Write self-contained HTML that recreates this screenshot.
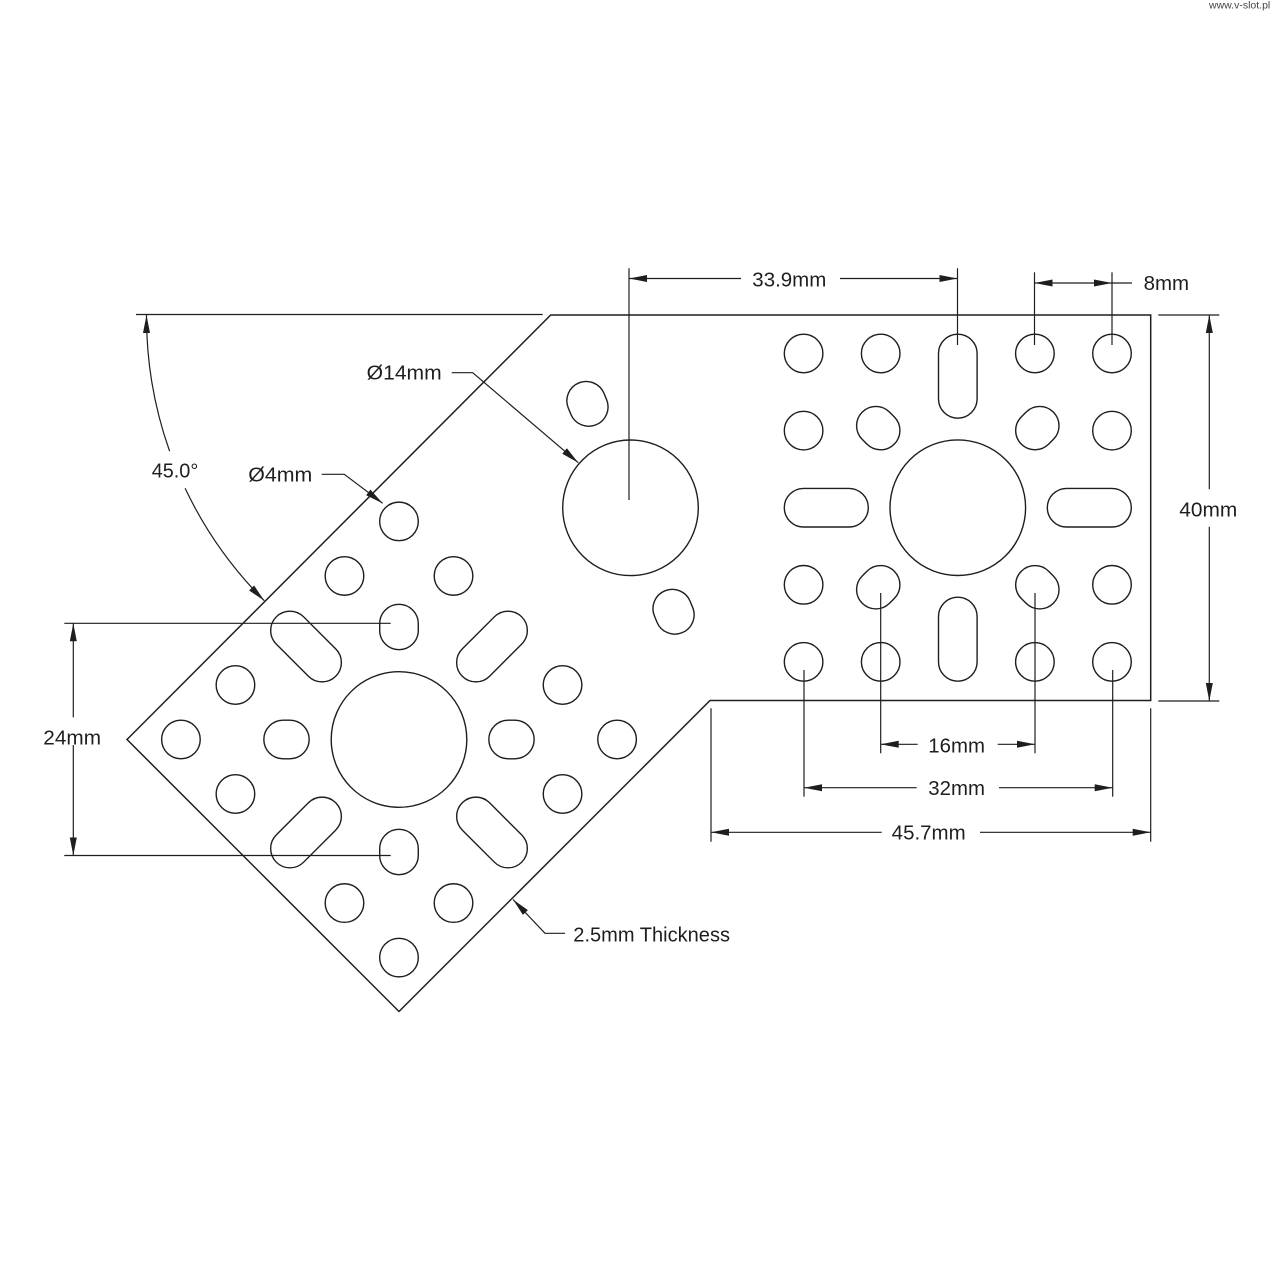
<!DOCTYPE html>
<html>
<head>
<meta charset="utf-8">
<style>
  html, body { margin: 0; padding: 0; background: #ffffff; }
  body { width: 1280px; height: 1280px; overflow: hidden; }
  svg { display: block; }
  text { font-family: "Liberation Sans", Arial, sans-serif; fill: #1e1e1e; }
</style>
</head>
<body>
<svg width="1280" height="1280" viewBox="0 0 1280 1280" xmlns="http://www.w3.org/2000/svg">
  <defs>
    <g id="pat" fill="none" stroke="#1e1e1e" stroke-width="1.4">
      <!-- 4mm circles -->
      <circle cx="-154.2" cy="-154.2" r="19.3"/>
      <circle cx="-77.1" cy="-154.2" r="19.3"/>
      <circle cx="77.1" cy="-154.2" r="19.3"/>
      <circle cx="154.2" cy="-154.2" r="19.3"/>
      <circle cx="-154.2" cy="-77.1" r="19.3"/>
      <circle cx="154.2" cy="-77.1" r="19.3"/>
      <circle cx="-154.2" cy="77.1" r="19.3"/>
      <circle cx="154.2" cy="77.1" r="19.3"/>
      <circle cx="-154.2" cy="154.2" r="19.3"/>
      <circle cx="-77.1" cy="154.2" r="19.3"/>
      <circle cx="77.1" cy="154.2" r="19.3"/>
      <circle cx="154.2" cy="154.2" r="19.3"/>
      <!-- center hole -->
      <circle cx="0" cy="0" r="67.8"/>
      <!-- long slots -->
      <rect x="-19.3" y="-173.5" width="38.6" height="84" rx="19.3" ry="19.3"/>
      <rect x="-19.3" y="89.5" width="38.6" height="84" rx="19.3" ry="19.3"/>
      <rect x="-173.5" y="-19.3" width="84" height="38.6" rx="19.3" ry="19.3"/>
      <rect x="89.5" y="-19.3" width="84" height="38.6" rx="19.3" ry="19.3"/>
      <!-- short radial slots -->
      <g transform="rotate(45)">
        <rect x="-135.15" y="-19.3" width="45.3" height="38.6" rx="19.3" ry="19.3"/>
        <rect x="89.85" y="-19.3" width="45.3" height="38.6" rx="19.3" ry="19.3"/>
      </g>
      <g transform="rotate(-45)">
        <rect x="-135.15" y="-19.3" width="45.3" height="38.6" rx="19.3" ry="19.3"/>
        <rect x="89.85" y="-19.3" width="45.3" height="38.6" rx="19.3" ry="19.3"/>
      </g>
    </g>
  </defs>

  <!-- watermark -->
  <text x="1209" y="8.5" font-size="10.5" style="fill:#444">www.v-slot.pl</text>

  <!-- plate outline -->
  <path d="M550.7,315 L1150.7,315 L1150.7,700.5 L710,700.5 L399,1011.5 L127,739.5 Z"
        fill="none" stroke="#1e1e1e" stroke-width="1.5" stroke-linejoin="miter"/>

  <!-- right square pattern -->
  <use href="#pat" transform="translate(957.8,507.7)"/>
  <!-- left rotated pattern -->
  <use href="#pat" transform="translate(399,739.5) rotate(-45)"/>

  <!-- middle Ø14 hole and slots -->
  <g fill="none" stroke="#1e1e1e" stroke-width="1.4">
    <circle cx="630.5" cy="507.8" r="67.8"/>
    <g transform="translate(630.5,507.8) rotate(67.5)">
      <rect x="-135.15" y="-19.3" width="45.3" height="38.6" rx="19.3" ry="19.3"/>
      <rect x="89.85" y="-19.3" width="45.3" height="38.6" rx="19.3" ry="19.3"/>
    </g>
  </g>

  <!-- dimension & extension lines -->
  <g fill="none" stroke="#1e1e1e" stroke-width="1.2">
    <!-- top extension lines -->
    <line x1="629" y1="268.3" x2="629" y2="500"/>
    <line x1="957.5" y1="268.3" x2="957.5" y2="345"/>
    <line x1="1034.5" y1="272.3" x2="1034.5" y2="345"/>
    <line x1="1112" y1="272.3" x2="1112" y2="345"/>
    <!-- 33.9 dim -->
    <line x1="629" y1="278.5" x2="741" y2="278.5"/>
    <line x1="840" y1="278.5" x2="957.5" y2="278.5"/>
    <!-- 8mm dim -->
    <line x1="1034.5" y1="283" x2="1132" y2="283"/>

    <!-- angle extension -->
    <line x1="136" y1="314.5" x2="542.7" y2="314.5"/>
    <!-- angle arcs -->
    <path d="M146.5,315 A404,404 0 0 0 169.6,451.2"/>
    <path d="M185.1,488.3 A404,404 0 0 0 264.3,600.7"/>

    <!-- right 40mm -->
    <line x1="1158.3" y1="315" x2="1219.3" y2="315"/>
    <line x1="1158.3" y1="701" x2="1219.3" y2="701"/>
    <line x1="1209.3" y1="315" x2="1209.3" y2="489.3"/>
    <line x1="1209.3" y1="526.7" x2="1209.3" y2="701"/>

    <!-- left 24mm -->
    <line x1="64.3" y1="623.3" x2="390.7" y2="623.3"/>
    <line x1="64.3" y1="855.5" x2="390.7" y2="855.5"/>
    <line x1="73.3" y1="623.3" x2="73.3" y2="717.3"/>
    <line x1="73.3" y1="745" x2="73.3" y2="855.5"/>

    <!-- bottom extension lines -->
    <line x1="880.7" y1="593" x2="880.7" y2="753.3"/>
    <line x1="1035" y1="593" x2="1035" y2="753.3"/>
    <line x1="804" y1="670" x2="804" y2="796.7"/>
    <line x1="1112.7" y1="670" x2="1112.7" y2="796.7"/>
    <line x1="711" y1="708.3" x2="711" y2="841.7"/>
    <line x1="1150.7" y1="708.3" x2="1150.7" y2="841.7"/>
    <!-- 16mm -->
    <line x1="880.7" y1="744.3" x2="917.7" y2="744.3"/>
    <line x1="997.7" y1="744.3" x2="1035" y2="744.3"/>
    <!-- 32mm -->
    <line x1="804" y1="787.7" x2="916.7" y2="787.7"/>
    <line x1="999" y1="787.7" x2="1112.7" y2="787.7"/>
    <!-- 45.7mm -->
    <line x1="711" y1="832.3" x2="881.7" y2="832.3"/>
    <line x1="980" y1="832.3" x2="1150.7" y2="832.3"/>

    <!-- leaders -->
    <polyline points="451.7,372.7 472.7,372.7 578.3,462.7"/>
    <polyline points="321.7,474.3 344.3,474.3 382.7,503.3"/>
    <polyline points="565,933.3 545,933.3 513,899.5"/>
  </g>

  <!-- arrowheads -->
  <g fill="#1e1e1e" stroke="none">
    <polygon points="629,278.5 647,275 647,282"/>
    <polygon points="957.5,278.5 939.5,275 939.5,282"/>
    <polygon points="1034.5,283 1052.5,279.5 1052.5,286.5"/>
    <polygon points="1112,283 1094,279.5 1094,286.5"/>
    <polygon points="1209.3,315 1205.8,333 1212.8,333"/>
    <polygon points="1209.3,701 1205.8,683 1212.8,683"/>
    <polygon points="73.3,623.3 69.8,641.3 76.8,641.3"/>
    <polygon points="73.3,855.5 69.8,837.5 76.8,837.5"/>
    <polygon points="880.7,744.3 898.7,740.8 898.7,747.8"/>
    <polygon points="1035,744.3 1017,740.8 1017,747.8"/>
    <polygon points="804,787.7 822,784.2 822,791.2"/>
    <polygon points="1112.7,787.7 1094.7,784.2 1094.7,791.2"/>
    <polygon points="711,832.3 729,828.8 729,835.8"/>
    <polygon points="1150.7,832.3 1132.7,828.8 1132.7,835.8"/>
    <!-- angle arrows -->
    <polygon points="146.5,315 143,333 150,333"/>
    <polygon points="264.3,600.7 249.1,590.5 254.1,585.5"/>
    <!-- leader arrows -->
    <polygon points="578.3,462.7 562.3,453.7 566.9,448.3"/>
    <polygon points="382.7,503.3 366.2,495.2 370.4,489.6"/>
    <polygon points="513,899.5 527.9,910.1 522.9,914.9"/>
  </g>

  <!-- labels -->
  <g font-size="20">
    <text x="752.3" y="286.7" textLength="74" lengthAdjust="spacingAndGlyphs">33.9mm</text>
    <text x="1143.6" y="290" textLength="45.5" lengthAdjust="spacingAndGlyphs">8mm</text>
    <text x="1179.3" y="516.7" textLength="58" lengthAdjust="spacingAndGlyphs">40mm</text>
    <text x="43.3" y="744.3" textLength="57.7" lengthAdjust="spacingAndGlyphs">24mm</text>
    <text x="151.7" y="477.5" textLength="46.6" lengthAdjust="spacingAndGlyphs">45.0°</text>
    <text x="248.3" y="481.5" textLength="64" lengthAdjust="spacingAndGlyphs">Ø4mm</text>
    <text x="366.7" y="379.3" textLength="75" lengthAdjust="spacingAndGlyphs">Ø14mm</text>
    <text x="928.3" y="752.7" textLength="56.7" lengthAdjust="spacingAndGlyphs">16mm</text>
    <text x="928.3" y="795.2" textLength="56.7" lengthAdjust="spacingAndGlyphs">32mm</text>
    <text x="891.7" y="839.7" textLength="74" lengthAdjust="spacingAndGlyphs">45.7mm</text>
    <text x="573.3" y="941.7" textLength="156.7" lengthAdjust="spacingAndGlyphs">2.5mm Thickness</text>
  </g>
</svg>
</body>
</html>
